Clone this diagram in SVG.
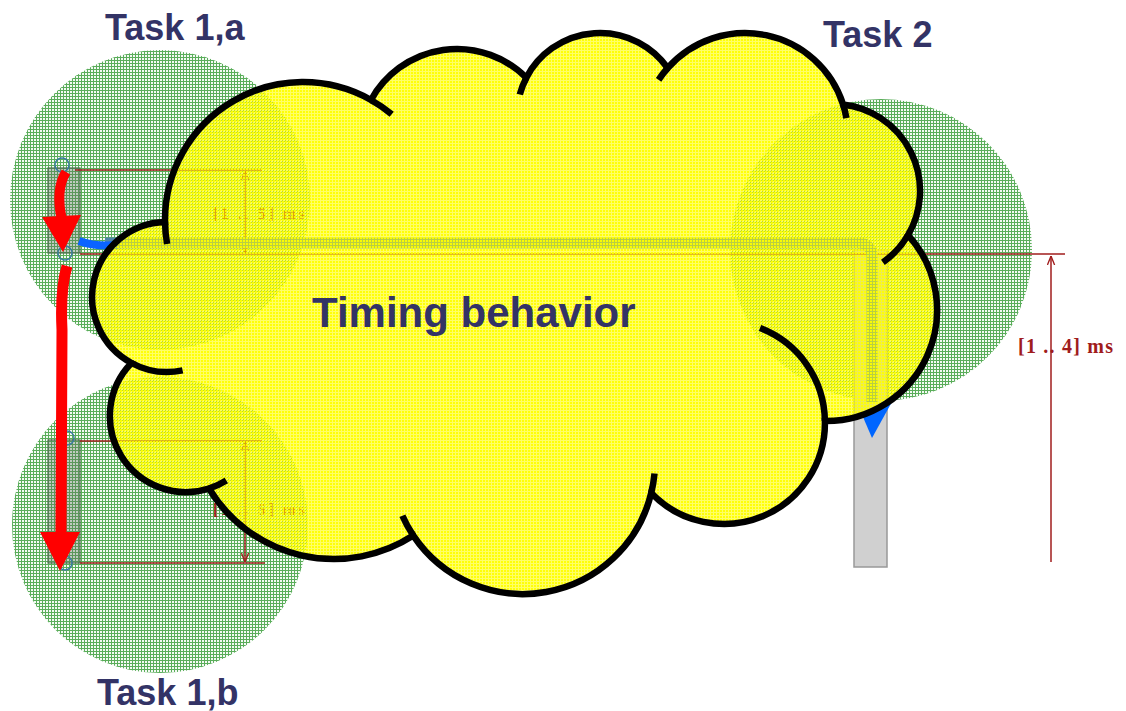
<svg xmlns="http://www.w3.org/2000/svg" width="1126" height="711" viewBox="0 0 1126 711">
<defs>
<pattern id="gp" width="3" height="3" patternUnits="userSpaceOnUse">
 <rect width="3" height="3" fill="#f4faf4"/>
 <rect width="3" height="1" fill="#5aad5a"/>
 <rect width="1" height="3" fill="#5aad5a"/>
</pattern>
<pattern id="yp" width="3" height="3" patternUnits="userSpaceOnUse">
 <rect width="2" height="2" fill="#ffff00" fill-opacity="0.97"/>
 <rect x="2" width="1" height="3" fill="#ffff00" fill-opacity="0.6"/>
 <rect y="2" width="2" height="1" fill="#ffff00" fill-opacity="0.6"/>
</pattern>
<marker id="dim" viewBox="0 0 10 10" refX="10" refY="5" markerWidth="9" markerHeight="9" markerUnits="userSpaceOnUse" orient="auto-start-reverse">
 <path d="M0,1 L10,5 L0,9" fill="none" stroke="#a01c1c" stroke-width="1.5"/>
</marker>
<style>
.title{font-family:"Liberation Sans",Arial,sans-serif;font-weight:bold;fill:#333366}
.tk{font-size:36px}
.ms{font-family:"Liberation Serif","Times New Roman",serif;font-weight:bold;fill:#a01c1c}
.dl{stroke:#a01c1c;stroke-width:1.5;fill:none}
.pt{fill:none;stroke:#3a7aa0;stroke-width:1.5}
.bar{fill:#5f6f5f;fill-opacity:0.35;stroke:#4f6f4f;stroke-width:1.2}
.zone{fill:url(#gp)}
.cl{fill:none;stroke:#000;stroke-width:6.5;stroke-linecap:butt}
.red{fill:none;stroke:#ff0000}
</style>
</defs>
<rect width="1126" height="711" fill="#ffffff"/>

<g id="task1a">
 <circle class="zone" cx="160" cy="200" r="150"/>
 <rect class="bar" x="48" y="168" width="32" height="85"/>
 <circle class="pt" cx="62" cy="165" r="7"/>
 <circle class="pt" cx="65" cy="253" r="7"/>
 <line class="dl" x1="75" y1="170" x2="262" y2="170"/>
 <line class="dl" x1="245" y1="171" x2="245" y2="253" marker-start="url(#dim)" marker-end="url(#dim)"/>
 <text class="ms" x="213" y="219" font-size="16" textLength="92" lengthAdjust="spacing">[1 .. 5] ms</text>
 <text class="title tk" x="105" y="40">Task 1,a</text>
</g>

<g id="task1b">
 <circle class="zone" cx="160" cy="525" r="148"/>
 <rect class="bar" x="48" y="440" width="32" height="123"/>
 <circle class="pt" cx="67" cy="438" r="7"/>
 <circle class="pt" cx="65" cy="563" r="7"/>
 <line class="dl" x1="80" y1="441" x2="262" y2="441"/>
 <line class="dl" x1="80" y1="563" x2="265" y2="563"/>
 <line class="dl" x1="245" y1="442" x2="245" y2="562" marker-start="url(#dim)" marker-end="url(#dim)"/>
 <text class="ms" x="213" y="515" font-size="16" textLength="92" lengthAdjust="spacing">[1 .. 5] ms</text>
 <text class="title tk" x="97" y="705">Task 1,b</text>
</g>

<g id="task2">
 <circle class="zone" cx="881" cy="250" r="151"/>
 <rect x="854" y="250" width="33" height="317" fill="#d0d0d0" stroke="#999999" stroke-width="1.5"/>
 <line class="dl" x1="80" y1="254" x2="1065" y2="254"/>
 <line class="dl" x1="1051" y1="256" x2="1051" y2="562" marker-start="url(#dim)"/>
 <text class="ms" x="1018" y="353" font-size="20" textLength="95" lengthAdjust="spacing">[1 .. 4] ms</text>
 <text class="title tk" x="823" y="47">Task 2</text>
</g>

<g id="connectors">
 <path d="M105,243 H858 Q872,243 872,258 V402" fill="none" stroke="#4f85a8" stroke-width="11"/>
 <path d="M79,241 Q95,247 118,245" fill="none" stroke="#0a64ff" stroke-width="8"/>
 <polygon points="863,417 893,400 872,438" fill="#0066ff"/>
 <path class="red" d="M66,172 Q55,190 62,220" stroke-width="10"/>
 <polygon points="42,217 81,215 63,252" fill="#ff0000"/>
 <path class="red" d="M67,266 Q60,290 62,330 L61,534" stroke-width="11"/>
 <polygon points="40,532 80,532 60,571" fill="#ff0000"/>
</g>

<g id="cloud">
 <path fill="url(#yp)" d="M165,222 A138,138 0 0 1 371,100 A98,98 0 0 1 526.3,77.7 A83,83 0 0 1 667.7,68 A103,103 0 0 1 843.1,104.5 A87,87 0 0 1 908,235.1 A111,111 0 0 1 824.9,421 A101,101 0 0 1 651.2,493.1 A132,132 0 0 1 413.3,535.6 A146,146 0 0 1 209,488.5 A76,76 0 0 1 131.5,363 A75,75 0 0 1 165,222 Z"/>
 <path class="cl" d="M165,222 A138,138 0 0 1 371,100 A98,98 0 0 1 526.3,77.7 A83,83 0 0 1 667.7,68 A103,103 0 0 1 843.1,104.5 A87,87 0 0 1 908,235.1 A111,111 0 0 1 824.9,421 A101,101 0 0 1 651.2,493.1 A132,132 0 0 1 413.3,535.6 A146,146 0 0 1 209,488.5 A76,76 0 0 1 131.5,363 A75,75 0 0 1 165,222 Z"/>
 <path class="cl" d="M167.1,244 A138,138 0 0 1 165,222 M371,100 A138,138 0 0 1 391.7,114.3 M519.8,94.5 A83,83 0 0 1 526.3,77.7 M658.6,79.9 A103,103 0 0 1 667.7,68 M843.1,104.5 A103,103 0 0 1 846.4,118.1 M908,235.1 A87,87 0 0 1 882.9,262.3 M760,328 A101,101 0 0 1 824.9,421 M654.5,473.5 A132,132 0 0 1 651.2,493.1 M413.3,535.6 A132,132 0 0 1 402.4,515.7 M226.3,480.5 A76,76 0 0 1 209,488.5 M182.6,370.4 A75,75 0 0 1 131.5,363"/>
 <text class="title" x="312" y="327" font-size="42">Timing behavior</text>
</g>
</svg>
